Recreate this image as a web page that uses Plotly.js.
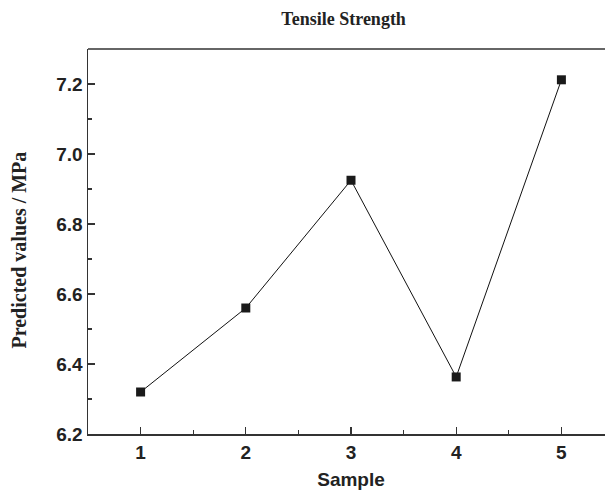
<!DOCTYPE html>
<html>
<head>
<meta charset="utf-8">
<script src="https://cdn.plot.ly/plotly-3.0.1.min.js"></script>
<style>html,body{margin:0;padding:0;background:#fff;overflow:hidden;width:605px;height:494px;}#chart{width:615px;height:494px;}</style>
</head>
<body>
<div id="chart"></div>
<script>
const samples = [1, 2, 3, 4, 5];
const predicted = [6.32, 6.56, 6.925, 6.363, 7.212];
const xTickVals = [1, 2, 3, 4, 5];
const yTickVals = [6.2, 6.4, 6.6, 6.8, 7.0, 7.2];
const yTickText = ['6.2', '6.4', '6.6', '6.8', '7.0', '7.2'];

const trace = {
  x: samples, y: predicted, type: 'scatter', mode: 'lines+markers',
  line: {color: '#111', width: 1},
  marker: {symbol: 'square', size: 9, color: '#1a1a1a'},
  showlegend: false, cliponaxis: false
};

const layout = {
  width: 615, height: 494,
  margin: {l: 88, r: 1, t: 49, b: 60},
  paper_bgcolor: '#fff', plot_bgcolor: '#fff',
  xaxis: {
    range: [0.5, 5.5], tickvals: xTickVals, ticks: 'inside', ticklen: 7, tickwidth: 1.2, tickcolor: '#333',
    showline: true, linecolor: '#333', linewidth: 1.5, mirror: false, showgrid: false, zeroline: false,
    ticklabelstandoff: 1,
    minor: {ticks: 'inside', dtick: 0.5, tick0: 0.5, ticklen: 4, tickwidth: 1.2, tickcolor: '#333'},
    tickfont: {family: 'Liberation Sans, Arial, sans-serif', size: 19, color: '#222', weight: 'bold'},
    title: {text: '<b>Sample</b>', font: {family: 'Liberation Sans, Arial, sans-serif', size: 19, color: '#222'}, standoff: 10}
  },
  yaxis: {
    range: [6.2, 7.3], tickvals: yTickVals, ticktext: yTickText, ticks: 'inside', ticklen: 7, tickwidth: 1.2, tickcolor: '#333',
    showline: true, linecolor: '#333', linewidth: 1.5, mirror: false, showgrid: false, zeroline: false,
    minor: {ticks: 'inside', dtick: 0.1, tick0: 6.2, ticklen: 4, tickwidth: 1.2, tickcolor: '#333'},
    tickfont: {family: 'Liberation Sans, Arial, sans-serif', size: 19, color: '#222', weight: 'bold'}
  },
  shapes: [{type: 'line', xref: 'paper', yref: 'paper', x0: 0, x1: 1, y0: 1, y1: 1, line: {color: '#333', width: 1.5}}],
  annotations: [{
    text: '<b>Predicted values / MPa</b>', textangle: -90, showarrow: false,
    xref: 'paper', yref: 'paper', x: 0, y: 0.5, xanchor: 'center', yanchor: 'middle', xshift: -70, yshift: -9,
    font: {family: 'Liberation Serif, Times New Roman, serif', size: 20, color: '#222'}
  }],
  title: {
    text: '<b>Tensile Strength</b>', font: {family: 'Liberation Serif, Times New Roman, serif', size: 18, color: '#222'},
    x: 0.486, xref: 'paper', xanchor: 'center', y: 0.963, yref: 'container', yanchor: 'middle'
  }
};

Plotly.newPlot('chart', [trace], layout, {displayModeBar: false, staticPlot: true});
</script>
</body>
</html>
